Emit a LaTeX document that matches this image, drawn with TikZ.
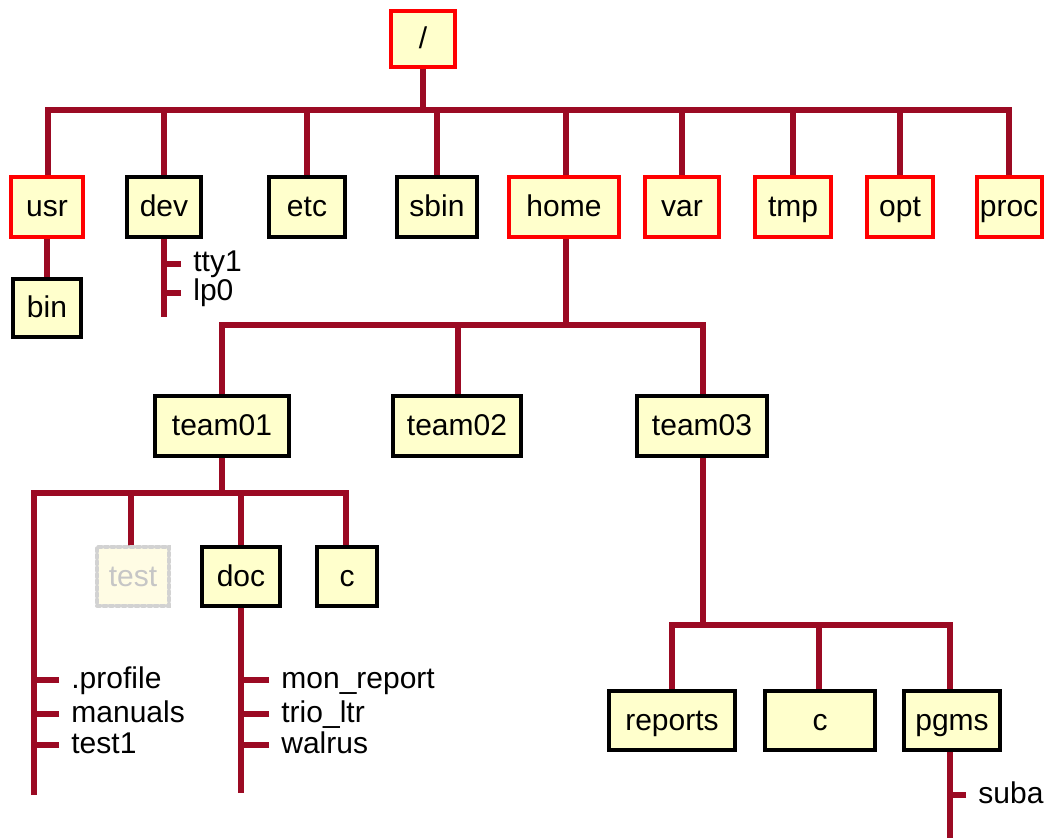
\documentclass[tikz,border=0pt]{standalone}
\usepackage{fontspec}
\setmainfont{Liberation Sans}
\usepackage{tikz}
\usetikzlibrary{calc}

\definecolor{linkred}{RGB}{155,10,35}
\definecolor{boxfill}{RGB}{255,255,204}
\definecolor{fadefill}{RGB}{255,252,228}

\tikzset{
    link/.style={draw=linkred, line width=2.8pt},
    dirbox/.style={draw=black, fill=boxfill, line width=2pt, inner sep=0pt,
        minimum height=30pt, text height=1em, text depth=0pt},
    sysbox/.style={dirbox, draw=red},
    gonebox/.style={dirbox, draw=gray!35, fill=fadefill, text=gray!45,
        dash pattern=on 1.6pt off 1.6pt, line cap=round},
    file/.style={anchor=west, inner xsep=6pt, inner ysep=0pt,
        text height=0.8em, text depth=0pt}
}

\begin{document}
\begin{tikzpicture}[x=0.5pt, y=-0.5pt, font=\fontsize{15}{17}\selectfont]
            \useasboundingbox (0,0) rectangle (1047,838);
            % bars and loose ends
            \coordinate (bar0) at (423,110);
            \coordinate (hbar) at (566,325);
            \coordinate (tbar) at (222,493);
            \coordinate (rbar) at (703,625);
            \coordinate (devend) at (164,317);
            \coordinate (listend) at (34,795);
            \coordinate (docend) at (241,793);
            \coordinate (pgmsend) at (950,838);
            % links first, boxes on top
            \draw[link] (423,39) -- (bar0);
            \draw[link] (48,207) |- (bar0);
            \draw[link] (1009,207) |- (bar0);
            \foreach \x in {164,307,437,566,682,793,900}
                \draw[link] (\x,207) -- (\x,110);
            \draw[link] (47,207) -- (47,308);
            \draw[link] (164,207) -- (devend);
            \draw[link] (566,207) -- (hbar);
            \draw[link] (222,426) |- (hbar);
            \draw[link] (703,426) |- (hbar);
            \draw[link] (458,426) -- (458,325);
            \draw[link] (222,426) -- (tbar);
            \draw[link] (listend) |- (tbar);
            \draw[link] (346,576) |- (tbar);
            \draw[link] (131,576) -- (131,493);
            \draw[link] (241,576) -- (241,493);
            \draw[link] (241,576) -- (docend);
            \draw[link] (703,426) -- (rbar);
            \draw[link] (672,720) |- (rbar);
            \draw[link] (950,720) |- (rbar);
            \draw[link] (819,720) -- (819,625);
            \draw[link] (950,720) -- (pgmsend);
            % directories
            \node[sysbox, minimum width=32pt, minimum height=28pt] (root) at (423,39) {/};
            \node[sysbox, minimum width=36pt] (usr) at (47,207) {usr};
            \node[dirbox, minimum width=37pt] (dev) at (164,207) {dev};
            \node[dirbox, minimum width=38pt] (etc) at (307,207) {etc};
            \node[dirbox, minimum width=40pt] (sbin) at (437,207) {sbin};
            \node[sysbox, minimum width=55pt] (home) at (564,207) {home};
            \node[sysbox, minimum width=37pt] (var) at (682,207) {var};
            \node[sysbox, minimum width=38pt] (tmp) at (793,207) {tmp};
            \node[sysbox, minimum width=33pt] (opt) at (900,207) {opt};
            \node[sysbox, minimum width=32.5pt] (proc) at (1009,207) {proc};
            \node[dirbox, minimum width=34pt, minimum height=29pt] (bin) at (47,308) {bin};
            \node[dirbox, minimum width=67pt] (team01) at (222,426) {team01};
            \node[dirbox, minimum width=64pt] (team02) at (457,426) {team02};
            \node[dirbox, minimum width=65pt] (team03) at (702,426) {team03};
            \node[gonebox, minimum width=36pt, minimum height=29.5pt] (test) at (133,576) {test};
            \node[dirbox, minimum width=39pt, minimum height=29.5pt] (doc) at (241,576) {doc};
            \node[dirbox, minimum width=30pt, minimum height=29.5pt] (c) at (347,576) {c};
            \node[dirbox, minimum width=63pt, minimum height=29.5pt] (reports) at (672,720) {reports};
            \node[dirbox, minimum width=55pt, minimum height=29.5pt] (c3) at (820,720) {c};
            \node[dirbox, minimum width=48pt, minimum height=29.5pt] (pgms) at (952,720) {pgms};
            % plain files
            \node[file] (tty1) at (181,264) {tty1};
            \node[file] (lp0) at (181,293) {lp0};
            \node[file] (profile) at (59,680) {.profile};
            \node[file] (manuals) at (59,714) {manuals};
            \node[file] (test1) at (59,745) {test1};
            \node[file] (monreport) at (269,680) {mon\_report};
            \node[file] (trioltr) at (269,714) {trio\_ltr};
            \node[file] (walrus) at (269,745) {walrus};
            \node[file] (suba) at (966,795) {suba};
            \foreach \f in {tty1,lp0}
                \draw[link] (\f.west) -- (\f.west -| devend);
            \foreach \f in {profile,manuals,test1}
                \draw[link] (\f.west) -- (\f.west -| listend);
            \foreach \f in {monreport,trioltr,walrus}
                \draw[link] (\f.west) -- (\f.west -| docend);
            \draw[link] (suba.west) -- (suba.west -| pgmsend);
        \end{tikzpicture}
\end{document}
